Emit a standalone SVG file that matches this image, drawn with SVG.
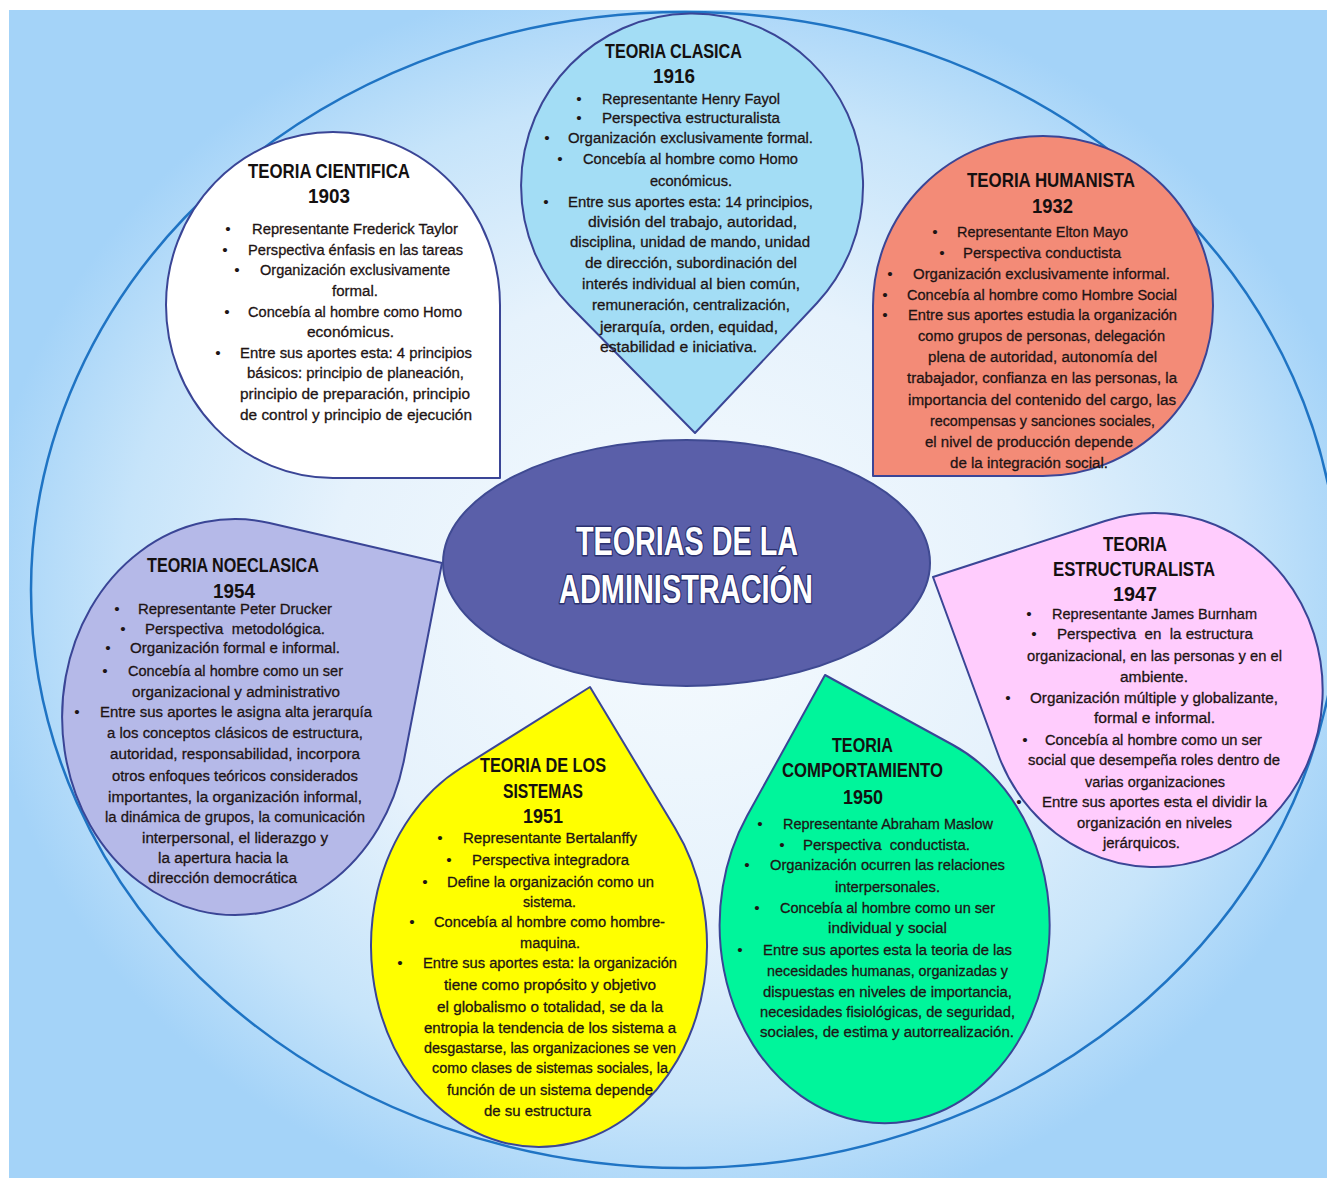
<svg xmlns="http://www.w3.org/2000/svg" width="1327" height="1178" viewBox="0 0 1327 1178">
<defs>
<radialGradient id="bg" gradientUnits="userSpaceOnUse" cx="680" cy="600" r="700" gradientTransform="translate(680 600) scale(1 0.9) translate(-680 -600)">
<stop offset="0" stop-color="#f6fbfe"/>
<stop offset="0.5" stop-color="#e6f2fc"/>
<stop offset="0.8" stop-color="#c6e4fa"/>
<stop offset="1" stop-color="#a4d3f8"/>
</radialGradient>
<style>
.petal{stroke:#3a4596;stroke-width:2;stroke-linejoin:round}
.t{font-family:"Liberation Sans",Arial,sans-serif;font-size:15.5px;fill:#1e1414;stroke:#1e1414;stroke-width:0.3}
.b{font-family:"Liberation Sans",Arial,sans-serif;font-size:15.5px;fill:#1e1414;text-anchor:middle}
.h{font-family:"Liberation Sans",Arial,sans-serif;font-size:20px;font-weight:bold;fill:#141010}
.c{font-family:"Liberation Sans",Arial,sans-serif;font-size:40px;font-weight:bold;fill:#ffffff;stroke:#2b3170;stroke-width:3;paint-order:stroke;stroke-linejoin:round}
.pre{white-space:pre}
</style>
</defs>
<g id="background">
<rect x="0" y="0" width="1327" height="1178" fill="#ffffff"/>
<rect x="9" y="10" width="1318" height="1168" fill="url(#bg)"/>
<ellipse cx="685" cy="590" rx="654" ry="578" fill="none" stroke="#1f74c4" stroke-width="2.5"/>
</g>
<g id="connectors"></g>

<g id="node-cientifica">
<path class="petal" fill="#ffffff" d="M333,478 A167 173 0 1 1 500,305 L500,478 Z"/>
<text class="h" x="248" y="178" textLength="162" lengthAdjust="spacingAndGlyphs">TEORIA CIENTIFICA</text>
<text class="h" x="308" y="203" textLength="42" lengthAdjust="spacingAndGlyphs">1903</text>
<text class="b" x="228" y="234">•</text><text class="b" x="225" y="255">•</text><text class="b" x="237" y="275">•</text><text class="b" x="227" y="317">•</text><text class="b" x="218" y="358">•</text>
<text class="t" x="252" y="234" textLength="206" lengthAdjust="spacingAndGlyphs">Representante Frederick Taylor</text>
<text class="t" x="248" y="255" textLength="215" lengthAdjust="spacingAndGlyphs">Perspectiva énfasis en las tareas</text>
<text class="t" x="260" y="275" textLength="190" lengthAdjust="spacingAndGlyphs">Organización exclusivamente</text>
<text class="t" x="332" y="296" textLength="46" lengthAdjust="spacingAndGlyphs">formal.</text>
<text class="t" x="248" y="317" textLength="214" lengthAdjust="spacingAndGlyphs">Concebía al hombre como Homo</text>
<text class="t" x="307" y="337" textLength="87" lengthAdjust="spacingAndGlyphs">económicus.</text>
<text class="t" x="240" y="358" textLength="232" lengthAdjust="spacingAndGlyphs">Entre sus aportes esta: 4 principios</text>
<text class="t" x="247" y="378" textLength="217" lengthAdjust="spacingAndGlyphs">básicos: principio de planeación,</text>
<text class="t" x="240" y="399" textLength="230" lengthAdjust="spacingAndGlyphs">principio de preparación, principio</text>
<text class="t" x="240" y="420" textLength="232" lengthAdjust="spacingAndGlyphs">de control y principio de ejecución</text>
</g>

<g id="node-clasica">
<path class="petal" fill="#a3ddf5" d="M817,303 L695,433 L570,306 A171 172 0 1 1 817,303 Z"/>
<text class="h" x="605" y="58" textLength="137" lengthAdjust="spacingAndGlyphs">TEORIA CLASICA</text>
<text class="h" x="653" y="83" textLength="42" lengthAdjust="spacingAndGlyphs">1916</text>
<text class="b" x="579" y="104">•</text><text class="b" x="579" y="123">•</text><text class="b" x="547" y="143">•</text><text class="b" x="560" y="164">•</text><text class="b" x="546" y="207">•</text>
<text class="t" x="602" y="104" textLength="178" lengthAdjust="spacingAndGlyphs">Representante Henry Fayol</text>
<text class="t" x="602" y="123" textLength="178" lengthAdjust="spacingAndGlyphs">Perspectiva estructuralista</text>
<text class="t" x="568" y="143" textLength="245" lengthAdjust="spacingAndGlyphs">Organización exclusivamente formal.</text>
<text class="t" x="583" y="164" textLength="215" lengthAdjust="spacingAndGlyphs">Concebía al hombre como Homo</text>
<text class="t" x="650" y="186" textLength="82" lengthAdjust="spacingAndGlyphs">económicus.</text>
<text class="t" x="568" y="207" textLength="245" lengthAdjust="spacingAndGlyphs">Entre sus aportes esta: 14 principios,</text>
<text class="t" x="588" y="227" textLength="209" lengthAdjust="spacingAndGlyphs">división del trabajo, autoridad,</text>
<text class="t" x="570" y="247" textLength="240" lengthAdjust="spacingAndGlyphs">disciplina, unidad de mando, unidad</text>
<text class="t" x="585" y="268" textLength="212" lengthAdjust="spacingAndGlyphs">de dirección, subordinación del</text>
<text class="t" x="582" y="289" textLength="218" lengthAdjust="spacingAndGlyphs">interés individual al bien común,</text>
<text class="t" x="592" y="310" textLength="198" lengthAdjust="spacingAndGlyphs">remuneración, centralización,</text>
<text class="t" x="600" y="332" textLength="178" lengthAdjust="spacingAndGlyphs">jerarquía, orden, equidad,</text>
<text class="t" x="600" y="352" textLength="157" lengthAdjust="spacingAndGlyphs">estabilidad e iniciativa.</text>
</g>

<g id="node-humanista">
<path class="petal" fill="#f38b77" d="M873,476 L873,306 A170 170 0 1 1 1043,476 Z"/>
<text class="h" x="967" y="187" textLength="168" lengthAdjust="spacingAndGlyphs">TEORIA HUMANISTA</text>
<text class="h" x="1032" y="213" textLength="41" lengthAdjust="spacingAndGlyphs">1932</text>
<text class="b" x="935" y="237">•</text><text class="b" x="942" y="258">•</text><text class="b" x="890" y="279">•</text><text class="b" x="885" y="300">•</text><text class="b" x="885" y="320">•</text>
<text class="t" x="957" y="237" textLength="171" lengthAdjust="spacingAndGlyphs">Representante Elton Mayo</text>
<text class="t" x="963" y="258" textLength="158" lengthAdjust="spacingAndGlyphs">Perspectiva conductista</text>
<text class="t" x="913" y="279" textLength="257" lengthAdjust="spacingAndGlyphs">Organización exclusivamente informal.</text>
<text class="t" x="907" y="300" textLength="270" lengthAdjust="spacingAndGlyphs">Concebía al hombre como Hombre Social</text>
<text class="t" x="908" y="320" textLength="269" lengthAdjust="spacingAndGlyphs">Entre sus aportes estudia la organización</text>
<text class="t" x="918" y="341" textLength="247" lengthAdjust="spacingAndGlyphs">como grupos de personas, delegación</text>
<text class="t" x="928" y="362" textLength="229" lengthAdjust="spacingAndGlyphs">plena de autoridad, autonomía del</text>
<text class="t" x="907" y="383" textLength="270" lengthAdjust="spacingAndGlyphs">trabajador, confianza en las personas, la</text>
<text class="t" x="908" y="405" textLength="268" lengthAdjust="spacingAndGlyphs">importancia del contenido del cargo, las</text>
<text class="t" x="930" y="426" textLength="225" lengthAdjust="spacingAndGlyphs">recompensas y sanciones sociales,</text>
<text class="t" x="925" y="447" textLength="208" lengthAdjust="spacingAndGlyphs">el nivel de producción depende</text>
<text class="t" x="950" y="468" textLength="158" lengthAdjust="spacingAndGlyphs">de la integración social.</text>
</g>

<g id="node-noeclasica">
<path class="petal" fill="#b5b9e8" d="M269.5,523 L442,563 L404,760 A173 198 0 1 1 269.5,523 Z"/>
<text class="h" x="147" y="572" textLength="172" lengthAdjust="spacingAndGlyphs">TEORIA NOECLASICA</text>
<text class="h" x="213" y="598" textLength="42" lengthAdjust="spacingAndGlyphs">1954</text>
<text class="b" x="117" y="614">•</text><text class="b" x="123" y="634">•</text><text class="b" x="108" y="653">•</text><text class="b" x="105" y="676">•</text><text class="b" x="77" y="717">•</text>
<text class="t" x="138" y="614" textLength="194" lengthAdjust="spacingAndGlyphs">Representante Peter Drucker</text>
<text class="t pre" x="145" y="634" textLength="180" lengthAdjust="spacingAndGlyphs">Perspectiva  metodológica.</text>
<text class="t" x="130" y="653" textLength="210" lengthAdjust="spacingAndGlyphs">Organización formal e informal.</text>
<text class="t" x="128" y="676" textLength="215" lengthAdjust="spacingAndGlyphs">Concebía al hombre como un ser</text>
<text class="t" x="132" y="697" textLength="208" lengthAdjust="spacingAndGlyphs">organizacional y administrativo</text>
<text class="t" x="100" y="717" textLength="272" lengthAdjust="spacingAndGlyphs">Entre sus aportes le asigna alta jerarquía</text>
<text class="t" x="107" y="738" textLength="256" lengthAdjust="spacingAndGlyphs">a los conceptos clásicos de estructura,</text>
<text class="t" x="110" y="759" textLength="250" lengthAdjust="spacingAndGlyphs">autoridad, responsabilidad, incorpora</text>
<text class="t" x="112" y="781" textLength="246" lengthAdjust="spacingAndGlyphs">otros enfoques teóricos considerados</text>
<text class="t" x="108" y="802" textLength="254" lengthAdjust="spacingAndGlyphs">importantes, la organización informal,</text>
<text class="t" x="105" y="822" textLength="260" lengthAdjust="spacingAndGlyphs">la dinámica de grupos, la comunicación</text>
<text class="t" x="142" y="843" textLength="186" lengthAdjust="spacingAndGlyphs">interpersonal, el liderazgo y</text>
<text class="t" x="158" y="863" textLength="130" lengthAdjust="spacingAndGlyphs">la apertura hacia la</text>
<text class="t" x="148" y="883" textLength="149" lengthAdjust="spacingAndGlyphs">dirección democrática</text>
</g>

<g id="node-estructuralista">
<path class="petal" fill="#ffccfd" d="M998,754 L933,577 L1105,521 A168 177 0 1 1 998,754 Z"/>
<text class="h" x="1103" y="551" textLength="64" lengthAdjust="spacingAndGlyphs">TEORIA</text>
<text class="h" x="1053" y="576" textLength="162" lengthAdjust="spacingAndGlyphs">ESTRUCTURALISTA</text>
<text class="h" x="1113" y="601" textLength="44" lengthAdjust="spacingAndGlyphs">1947</text>
<text class="b" x="1029" y="619">•</text><text class="b" x="1034" y="639">•</text><text class="b" x="1008" y="703">•</text><text class="b" x="1025" y="745">•</text><text class="b" x="1019" y="807">•</text>
<text class="t" x="1052" y="619" textLength="205" lengthAdjust="spacingAndGlyphs">Representante James Burnham</text>
<text class="t pre" x="1057" y="639" textLength="196" lengthAdjust="spacingAndGlyphs">Perspectiva  en  la estructura</text>
<text class="t" x="1027" y="661" textLength="255" lengthAdjust="spacingAndGlyphs">organizacional, en las personas y en el</text>
<text class="t" x="1120" y="682" textLength="68" lengthAdjust="spacingAndGlyphs">ambiente.</text>
<text class="t" x="1030" y="703" textLength="248" lengthAdjust="spacingAndGlyphs">Organización múltiple y globalizante,</text>
<text class="t" x="1094" y="723" textLength="121" lengthAdjust="spacingAndGlyphs">formal e informal.</text>
<text class="t" x="1045" y="745" textLength="217" lengthAdjust="spacingAndGlyphs">Concebía al hombre como un ser</text>
<text class="t" x="1028" y="765" textLength="252" lengthAdjust="spacingAndGlyphs">social que desempeña roles dentro de</text>
<text class="t" x="1085" y="787" textLength="140" lengthAdjust="spacingAndGlyphs">varias organizaciones</text>
<text class="t" x="1042" y="807" textLength="225" lengthAdjust="spacingAndGlyphs">Entre sus aportes esta el dividir la</text>
<text class="t" x="1077" y="828" textLength="155" lengthAdjust="spacingAndGlyphs">organización en niveles</text>
<text class="t" x="1103" y="848" textLength="77" lengthAdjust="spacingAndGlyphs">jerárquicos.</text>
</g>

<g id="node-sistemas">
<path class="petal" fill="#ffff00" d="M461,768 L590,687 L675,828 A168 201 0 1 1 461,768 Z"/>
<text class="h" x="480" y="772" textLength="126" lengthAdjust="spacingAndGlyphs">TEORIA DE LOS</text>
<text class="h" x="503" y="798" textLength="80" lengthAdjust="spacingAndGlyphs">SISTEMAS</text>
<text class="h" x="523" y="823" textLength="40" lengthAdjust="spacingAndGlyphs">1951</text>
<text class="b" x="440" y="843">•</text><text class="b" x="449" y="865">•</text><text class="b" x="425" y="887">•</text><text class="b" x="412" y="927">•</text><text class="b" x="400" y="968">•</text>
<text class="t" x="463" y="843" textLength="174" lengthAdjust="spacingAndGlyphs">Representante Bertalanffy</text>
<text class="t" x="472" y="865" textLength="157" lengthAdjust="spacingAndGlyphs">Perspectiva integradora</text>
<text class="t" x="447" y="887" textLength="207" lengthAdjust="spacingAndGlyphs">Define la organización como un</text>
<text class="t" x="523" y="907" textLength="53" lengthAdjust="spacingAndGlyphs">sistema.</text>
<text class="t" x="434" y="927" textLength="231" lengthAdjust="spacingAndGlyphs">Concebía al hombre como hombre-</text>
<text class="t" x="520" y="948" textLength="60" lengthAdjust="spacingAndGlyphs">maquina.</text>
<text class="t" x="423" y="968" textLength="254" lengthAdjust="spacingAndGlyphs">Entre sus aportes esta: la organización</text>
<text class="t" x="444" y="990" textLength="212" lengthAdjust="spacingAndGlyphs">tiene como propósito y objetivo</text>
<text class="t" x="437" y="1012" textLength="226" lengthAdjust="spacingAndGlyphs">el globalismo o totalidad, se da la</text>
<text class="t" x="424" y="1033" textLength="252" lengthAdjust="spacingAndGlyphs">entropia la tendencia de los sistema a</text>
<text class="t" x="424" y="1053" textLength="252" lengthAdjust="spacingAndGlyphs">desgastarse, las organizaciones se ven</text>
<text class="t" x="432" y="1073" textLength="236" lengthAdjust="spacingAndGlyphs">como clases de sistemas sociales, la</text>
<text class="t" x="447" y="1095" textLength="206" lengthAdjust="spacingAndGlyphs">función de un sistema depende</text>
<text class="t" x="484" y="1116" textLength="107" lengthAdjust="spacingAndGlyphs">de su estructura</text>
</g>

<g id="node-comportamiento">
<path class="petal" fill="#00f59b" d="M747,816 L825,675 L953,745 A165 198 0 1 1 747,816 Z"/>
<text class="h" x="832" y="752" textLength="61" lengthAdjust="spacingAndGlyphs">TEORIA</text>
<text class="h" x="782" y="777" textLength="161" lengthAdjust="spacingAndGlyphs">COMPORTAMIENTO</text>
<text class="h" x="843" y="804" textLength="40" lengthAdjust="spacingAndGlyphs">1950</text>
<text class="b" x="760" y="829">•</text><text class="b" x="782" y="850">•</text><text class="b" x="747" y="870">•</text><text class="b" x="757" y="913">•</text><text class="b" x="740" y="955">•</text>
<text class="t" x="783" y="829" textLength="210" lengthAdjust="spacingAndGlyphs">Representante Abraham Maslow</text>
<text class="t pre" x="803" y="850" textLength="167" lengthAdjust="spacingAndGlyphs">Perspectiva  conductista.</text>
<text class="t" x="770" y="870" textLength="235" lengthAdjust="spacingAndGlyphs">Organización ocurren las relaciones</text>
<text class="t" x="835" y="892" textLength="105" lengthAdjust="spacingAndGlyphs">interpersonales.</text>
<text class="t" x="780" y="913" textLength="215" lengthAdjust="spacingAndGlyphs">Concebía al hombre como un ser</text>
<text class="t" x="828" y="933" textLength="119" lengthAdjust="spacingAndGlyphs">individual y social</text>
<text class="t" x="763" y="955" textLength="249" lengthAdjust="spacingAndGlyphs">Entre sus aportes esta la teoria de las</text>
<text class="t" x="767" y="976" textLength="241" lengthAdjust="spacingAndGlyphs">necesidades humanas, organizadas y</text>
<text class="t" x="763" y="997" textLength="249" lengthAdjust="spacingAndGlyphs">dispuestas en niveles de importancia,</text>
<text class="t" x="760" y="1017" textLength="255" lengthAdjust="spacingAndGlyphs">necesidades fisiológicas, de seguridad,</text>
<text class="t" x="760" y="1037" textLength="254" lengthAdjust="spacingAndGlyphs">sociales, de estima y autorrealización.</text>
</g>

<g id="node-center">
<ellipse cx="686.5" cy="563" rx="243.5" ry="123" fill="#5a5fa9" stroke="#3f4a92" stroke-width="2"/>
<text class="c" x="576" y="555" textLength="222" lengthAdjust="spacingAndGlyphs">TEORIAS DE LA</text>
<text class="c" x="559" y="603" textLength="254" lengthAdjust="spacingAndGlyphs">ADMINISTRACIÓN</text>
</g>
</svg>
